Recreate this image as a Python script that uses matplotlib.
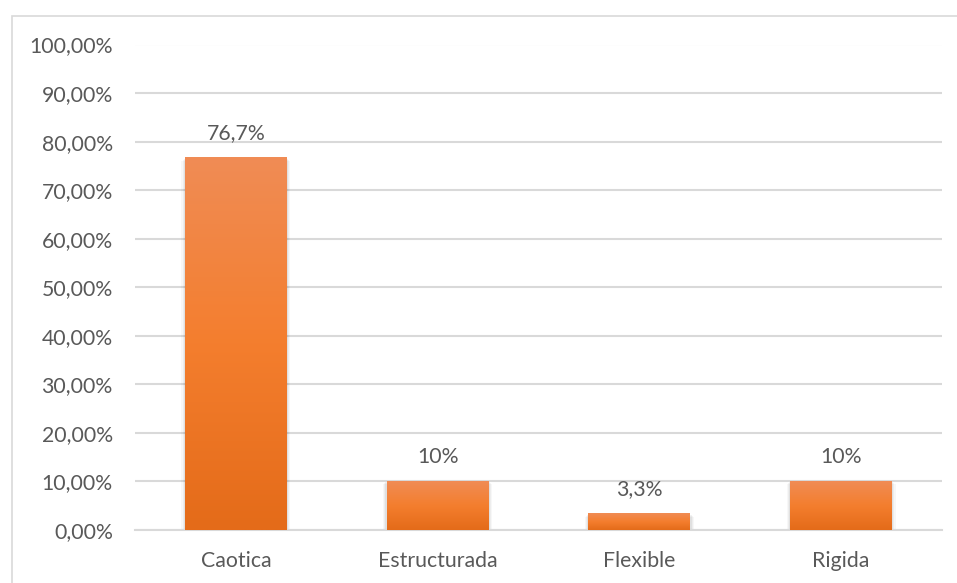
import numpy as np
import matplotlib
matplotlib.use("Agg")
import matplotlib.pyplot as plt
from matplotlib.colors import LinearSegmentedColormap
from matplotlib.patches import Rectangle
from matplotlib.ticker import FuncFormatter

categories = ["Caotica", "Estructurada", "Flexible", "Rigida"]
values = [76.7, 10.0, 3.3, 10.0]
labels = ["76,7%", "10%", "3,3%", "10%"]
yticks = [0, 10, 20, 30, 40, 50, 60, 70, 80, 90, 100]

plt.rcParams['font.family'] = ['Lato', 'DejaVu Sans']
text_color = "#595959"
fs = 15.3

fig = plt.figure(figsize=(9.57, 5.83), dpi=100)
W, H = 957, 583
ax = fig.add_axes([135 / W, 1 - 530 / H, (942 - 135) / W, (530 - 44.5) / H])

# outer frame
fig.patches.append(Rectangle((12 / W, -0.05), 1.2, 1 - 16 / H + 0.05, transform=fig.transFigure,
                             fill=False, edgecolor="#D9D9D9", linewidth=1.2))

ax.set_xlim(-0.5, len(categories) - 0.5)
ax.set_ylim(0, 100)
ax.set_yticks(yticks)
ax.yaxis.set_major_formatter(FuncFormatter(lambda v, p: f"{v:.2f}".replace(".", ",") + "%"))
ax.grid(axis="y", color="#D9D9D9", linewidth=1.5)
ax.set_axisbelow(True)
for s in ["top", "right", "left"]:
    ax.spines[s].set_visible(False)
ax.spines["bottom"].set_color("#D9D9D9")
ax.spines["bottom"].set_linewidth(1.5)
ax.tick_params(axis="both", length=0, labelsize=fs, colors=text_color)
ax.tick_params(axis="y", pad=16)
ax.tick_params(axis="x", pad=15)
ax.set_xticks(range(len(categories)))
ax.set_xticklabels(categories)

cmap = LinearSegmentedColormap.from_list("og", ["#E46B19", "#F47E2E", "#F08C55"])
grad = np.linspace(0, 1, 256).reshape(-1, 1)
width = 0.505
bars = ax.bar(range(len(categories)), values, width=width, color="none", zorder=3)
for b, lab in zip(bars, labels):
    x0, y0 = b.get_x(), b.get_y()
    w, h = b.get_width(), b.get_height()
    # soft shadow
    for k, a in enumerate([0.05, 0.04, 0.03]):
        d = 0.006 * (k + 1)
        ax.add_patch(Rectangle((x0 - d, y0 - 0.4 * (k + 1)), w + 2 * d, h + 0.2 * (k + 1),
                               facecolor="#000000", alpha=a, edgecolor="none", zorder=2))
    ax.imshow(grad, extent=(x0, x0 + w, y0, y0 + h), origin="lower", cmap=cmap,
              aspect="auto", zorder=4)
    ax.text(x0 + w / 2, h + 3.0, lab, ha="center", va="bottom", fontsize=fs, color=text_color)

ax.set_xlim(-0.5, len(categories) - 0.5)
ax.set_ylim(0, 100)

fig.savefig("out.png", dpi=100, facecolor="white")
